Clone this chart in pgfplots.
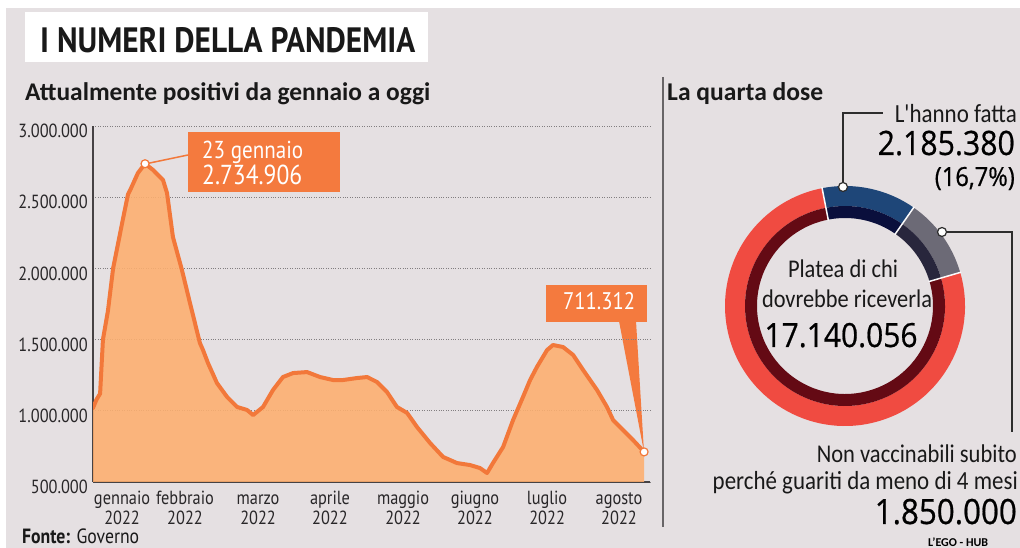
\documentclass[border=0pt]{standalone}
\usepackage{pgfplots}
\pgfplotsset{compat=1.18}
\usepackage{pgfplotstable}
\usepackage{fontspec}
\setmainfont{Carlito}
\newfontfamily\carc[FakeStretch=0.88]{Carlito}
\newfontfamily\ptsans{PT Sans}
\newfontfamily\ptcond[FakeStretch=0.86]{PT Sans}
\newfontfamily\opensans[FakeStretch=0.9, FakeBold=0.6]{Open Sans}

\definecolor{bg}{RGB}{229,224,226}
\definecolor{orangeline}{RGB}{242,120,58}
\definecolor{orangefill}{RGB}{254,175,111}
\definecolor{boxorange}{RGB}{244,122,62}
\definecolor{axisgray}{RGB}{70,66,68}
\definecolor{gridgray}{RGB}{130,126,128}
\definecolor{labelgray}{RGB}{40,38,40}
\definecolor{txt}{RGB}{25,25,25}
\definecolor{redA}{RGB}{240,75,65}
\definecolor{redB}{RGB}{100,10,20}
\definecolor{blueA}{RGB}{30,70,120}
\definecolor{blueB}{RGB}{10,15,60}
\definecolor{grayA}{RGB}{108,106,118}
\definecolor{grayB}{RGB}{40,38,60}
\definecolor{leader}{RGB}{45,45,45}

\pgfplotstableread{
d v
0 1020000
1.5 1080000
3 1120000
4.2 1500000
6.3 1700000
8.5 2000000
12.7 2350000
14.8 2520000
16.0 2560000
19.0 2670000
22 2734906
25.4 2691000
29.6 2621000
31.3 2529000
33.8 2220000
37.6 1989000
41.0 1757000
45.2 1476000
46.5 1427000
48.6 1336000
52.4 1195000
56.7 1097000
60.9 1027000
65.1 1006000
67.7 970000
71.9 1027000
76.1 1146000
80.3 1237000
84.6 1265000
90.5 1272000
96.0 1237000
101.5 1216000
105.7 1216000
111.6 1230000
115.9 1237000
120.1 1202000
124.3 1132000
128.5 1027000
132.8 985000
137.0 886000
142.5 774000
148.0 676000
153.9 633000
159.4 619000
163.6 598000
166.6 563000
169.1 633000
173.4 746000
177.6 935000
181.8 1097000
184.8 1216000
187.7 1308000
192.0 1427000
194.5 1462000
198.7 1448000
203.0 1392000
207.2 1287000
213.1 1146000
217.3 1027000
219.9 935000
224.1 865000
228.3 795000
233 711312
}\curve

% donut data (millions)
\def\platea{17.140056}
\def\fatta{2.185380}
\def\guariti{1.850000}

\newcommand\sector[5]{% color, a1, a2, r1, r2
  \fill[#1] ([shift={(845pt,242pt)}]#2:#5pt) arc[start angle=#2, end angle=#3, radius=#5pt]
    -- ([shift={(845pt,242pt)}]#3:#4pt) arc[start angle=#3, end angle=#2, radius=#4pt] -- cycle;}

\begin{document}
\begin{tikzpicture}
% background
\fill[white] (0pt,0pt) rectangle (1020pt,548pt);
\fill[bg] (6pt,0pt) rectangle (1020pt,540pt);
\fill[white] (25pt,486pt) rectangle (428pt,536pt);
\node[anchor=base west, inner sep=0, text=txt] at (40pt,495pt)
  {\resizebox{375pt}{25pt}{\ptsans\bfseries I NUMERI DELLA PANDEMIA}};
\node[anchor=base west, inner sep=0, text=txt] at (25pt,447pt)
  {\resizebox{405pt}{!}{\bfseries Attualmente positivi da gennaio a oggi}};
\node[anchor=base west, inner sep=0, text=txt] at (667pt,447pt)
  {\resizebox{156pt}{!}{\bfseries La quarta dose}};
\node[anchor=base west, inner sep=0, text=txt] at (22pt,4.5pt)
  {\resizebox{117pt}{!}{\ptcond\textbf{Fonte:} Governo}};
% divider
\draw[gridgray!80!black, line width=1.2pt] (663pt,471pt) -- (663pt,21pt);

% annotation boxes (below the plot)
\fill[boxorange] (188pt,356pt) rectangle (340pt,416pt);
\node[anchor=base west, inner sep=0, text=white] at (202pt,389pt)
  {\resizebox{101pt}{!}{\ptcond 23 gennaio}};
\node[anchor=base west, inner sep=0, text=white] at (202pt,363pt)
  {\resizebox{100pt}{!}{\ptcond 2.734.906}};
\draw[orangeline, line width=1.5pt] (145pt,384pt) -- (188pt,393pt);
\fill[boxorange] (546pt,226pt) rectangle (647pt,263pt);
\fill[boxorange] (619pt,227pt) -- (636pt,227pt) -- (644pt,96pt) -- cycle;
\node[anchor=base west, inner sep=0, text=white] at (563pt,238pt)
  {\resizebox{72pt}{!}{\ptcond 711.312}};

\begin{axis}[
  at={(93pt,66pt)}, anchor=south west,
  width=557pt, height=356pt, scale only axis,
  xmin=0, xmax=235.5, ymin=500000, ymax=3000000,
  axis lines=left, axis line style={-, draw=axisgray, line width=2pt},
  ytick={500000,1000000,1500000,2000000,2500000,3000000},
  yticklabels={500.000,1.000.000,1.500.000,2.000.000,2.500.000,3.000.000},
  xtick={12.3,38.9,69.8,100.2,131.1,161.5,192,222.4},
  xticklabels={{gennaio\\2022},{febbraio\\2022},{marzo\\2022},{aprile\\2022},{maggio\\2022},{giugno\\2022},{luglio\\2022},{agosto\\2022}},
  major tick length=0pt,
  scaled y ticks=false,
  ymajorgrids, grid style={dotted, gridgray, line width=0.9pt},
  yticklabel style={font=\fontsize{19}{20}\selectfont\ptcond, text=labelgray, anchor=east, inner sep=0pt, xshift=-5pt, yshift=-5pt},
  xticklabel style={font=\fontsize{19}{20}\selectfont\ptcond, text=labelgray, align=center, anchor=base, inner sep=0pt, yshift=-43pt},
  clip=true,
]
\addplot[fill=orangefill, fill opacity=0.88, draw=none] table[x=d,y=v]{\curve} \closedcycle;
\addplot[orangeline, line width=4pt, line join=round, line cap=round] table[x=d,y=v]{\curve};
\addplot[only marks, mark=*, mark size=4pt, mark options={fill=white, draw=orangeline, line width=1.2pt}]
  coordinates {(22,2734906) (233,711312)};
\end{axis}

% donut
\pgfmathsetmacro\aA{101}
\pgfmathsetmacro\aB{\aA-360*\fatta/\platea}
\pgfmathsetmacro\aC{\aB-360*\guariti/\platea}
\pgfmathsetmacro\aD{\aA-360}
\sector{blueA}{\aA}{\aB}{100}{120}
\sector{blueB}{\aA}{\aB}{88}{100}
\sector{grayA}{\aB}{\aC}{100}{120}
\sector{grayB}{\aB}{\aC}{88}{100}
\sector{redA}{\aC}{\aD}{100}{120}
\sector{redB}{\aC}{\aD}{88}{100}
\foreach \a in {\aA,\aB,\aC}
  \draw[white!85!bg, line width=1.5pt] ([shift={(845pt,242pt)}]\a:87pt) -- ([shift={(845pt,242pt)}]\a:121pt);

\node[anchor=base, inner sep=0, text=txt] at (843pt,270pt) {\resizebox{110pt}{!}{\carc Platea di chi}};
\node[anchor=base, inner sep=0, text=txt] at (847pt,240pt) {\resizebox{170pt}{!}{\carc dovrebbe riceverla}};
\node[anchor=base, inner sep=0, text=black] at (841pt,201pt) {\resizebox{153pt}{!}{\opensans 17.140.056}};

% leaders
\draw[leader, line width=1.5pt] (843pt,361pt) -- (843pt,435pt) -- (883pt,435pt);
\draw[leader, line width=1.5pt] (942pt,316pt) -- (1012pt,316pt) -- (1012pt,116pt);
\filldraw[fill=white, draw=leader, line width=1.2pt] (843pt,361pt) circle (4.5pt);
\filldraw[fill=white, draw=leader, line width=1.2pt] (942pt,316pt) circle (4.5pt);

\node[anchor=base east, inner sep=0, text=txt] at (1017pt,425pt) {\resizebox{122pt}{!}{\carc L'hanno fatta}};
\node[anchor=base east, inner sep=0, text=black] at (1015pt,393pt) {\resizebox{137pt}{!}{\opensans 2.185.380}};
\node[anchor=base east, inner sep=0, text=black] at (1015pt,362pt) {\resizebox{80pt}{!}{\opensans (16,7\%)}};
\node[anchor=base east, inner sep=0, text=txt] at (1017pt,85pt) {\resizebox{200pt}{!}{\carc Non vaccinabili subito}};
\node[anchor=base east, inner sep=0, text=txt] at (1018pt,58pt) {\resizebox{305pt}{!}{\carc perché guariti da meno di 4 mesi}};
\node[anchor=base east, inner sep=0, text=black] at (1017pt,24pt) {\resizebox{142pt}{!}{\opensans 1.850.000}};
\node[anchor=base west, inner sep=0, text=black] at (928pt,1pt) {\fontsize{12}{12}\selectfont\bfseries L’EGO - HUB};

\pgfresetboundingbox
\useasboundingbox (0pt,0pt) rectangle (1020pt,548pt);
\end{tikzpicture}
\end{document}
